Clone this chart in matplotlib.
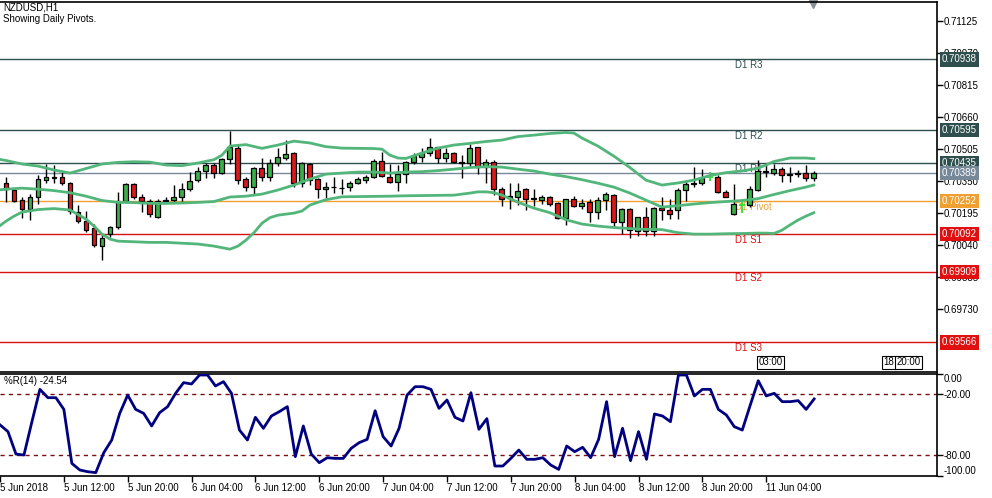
import numpy as np
import matplotlib
matplotlib.use('Agg')
import matplotlib.pyplot as plt
import matplotlib.transforms as mtransforms

plt.rcParams['font.family'] = ['Liberation Sans', 'DejaVu Sans']

# NZDUSD H1 candles, bar 0 = 5 Jun 05:00
opens = [0.70340, 0.70305, 0.70256, 0.70211, 0.70272, 0.70353, 0.70366, 0.70366, 0.70340, 0.70196,
         0.70156, 0.70119, 0.70033, 0.70091, 0.70124, 0.70253, 0.70334, 0.70269, 0.70251, 0.70172,
         0.70252, 0.70258, 0.70272, 0.70308, 0.70352, 0.70395, 0.70426, 0.70389, 0.70453, 0.70510,
         0.70356, 0.70321, 0.70410, 0.70366, 0.70438, 0.70458, 0.70482, 0.70341, 0.70431, 0.70356,
         0.70309, 0.70321, 0.70317, 0.70321, 0.70340, 0.70353, 0.70369, 0.70447, 0.70369, 0.70345,
         0.70382, 0.70442, 0.70463, 0.70483, 0.70512, 0.70458, 0.70485, 0.70442, 0.70437, 0.70512,
         0.70415, 0.70442, 0.70308, 0.70274, 0.70272, 0.70308, 0.70263, 0.70257, 0.70271, 0.70240,
         0.70171, 0.70260, 0.70228, 0.70245, 0.70199, 0.70256, 0.70280, 0.70151, 0.70212, 0.70108,
         0.70174, 0.70108, 0.70220, 0.70210, 0.70208, 0.70305, 0.70334, 0.70341, 0.70369, 0.70366,
         0.70296, 0.70191, 0.70230, 0.70232, 0.70305, 0.70395, 0.70389, 0.70405, 0.70381, 0.70383,
         0.70387, 0.70361]
highs = [0.70369, 0.70316, 0.70272, 0.70288, 0.70377, 0.70431, 0.70426, 0.70393, 0.70345, 0.70232,
         0.70204, 0.70140, 0.70086, 0.70130, 0.70296, 0.70340, 0.70340, 0.70284, 0.70259, 0.70259,
         0.70272, 0.70329, 0.70337, 0.70393, 0.70418, 0.70434, 0.70434, 0.70458, 0.70592, 0.70528,
         0.70366, 0.70415, 0.70458, 0.70453, 0.70508, 0.70547, 0.70490, 0.70442, 0.70434, 0.70361,
         0.70345, 0.70366, 0.70356, 0.70350, 0.70366, 0.70377, 0.70453, 0.70490, 0.70431, 0.70426,
         0.70447, 0.70483, 0.70507, 0.70555, 0.70515, 0.70507, 0.70490, 0.70474, 0.70528, 0.70515,
         0.70453, 0.70450, 0.70318, 0.70337, 0.70337, 0.70313, 0.70308, 0.70279, 0.70275, 0.70248,
         0.70262, 0.70275, 0.70259, 0.70262, 0.70269, 0.70296, 0.70285, 0.70216, 0.70216, 0.70175,
         0.70223, 0.70222, 0.70272, 0.70259, 0.70313, 0.70348, 0.70418, 0.70405, 0.70393, 0.70377,
         0.70305, 0.70334, 0.70254, 0.70324, 0.70452, 0.70435, 0.70431, 0.70418, 0.70418, 0.70402,
         0.70424, 0.70398]
lows = [0.70248, 0.70248, 0.70167, 0.70159, 0.70237, 0.70337, 0.70340, 0.70329, 0.70191, 0.70146,
        0.70102, 0.70029, 0.69968, 0.70078, 0.70114, 0.70248, 0.70259, 0.70199, 0.70172, 0.70167,
        0.70240, 0.70240, 0.70243, 0.70301, 0.70345, 0.70361, 0.70361, 0.70385, 0.70430, 0.70332,
        0.70301, 0.70285, 0.70350, 0.70350, 0.70421, 0.70450, 0.70321, 0.70321, 0.70329, 0.70264,
        0.70264, 0.70291, 0.70285, 0.70301, 0.70334, 0.70337, 0.70361, 0.70366, 0.70340, 0.70301,
        0.70337, 0.70431, 0.70442, 0.70469, 0.70437, 0.70442, 0.70434, 0.70361, 0.70418, 0.70382,
        0.70337, 0.70280, 0.70227, 0.70211, 0.70232, 0.70208, 0.70227, 0.70237, 0.70227, 0.70165,
        0.70137, 0.70224, 0.70211, 0.70151, 0.70162, 0.70208, 0.70119, 0.70094, 0.70070, 0.70081,
        0.70081, 0.70081, 0.70159, 0.70162, 0.70162, 0.70251, 0.70319, 0.70330, 0.70348, 0.70291,
        0.70269, 0.70186, 0.70195, 0.70224, 0.70300, 0.70368, 0.70377, 0.70345, 0.70345, 0.70368,
        0.70351, 0.70350]
closes = [0.70308, 0.70253, 0.70211, 0.70272, 0.70356, 0.70366, 0.70365, 0.70337, 0.70204, 0.70156,
          0.70111, 0.70038, 0.70070, 0.70124, 0.70253, 0.70334, 0.70269, 0.70251, 0.70188, 0.70251,
          0.70257, 0.70269, 0.70308, 0.70347, 0.70395, 0.70426, 0.70389, 0.70453, 0.70513, 0.70355,
          0.70318, 0.70411, 0.70366, 0.70438, 0.70463, 0.70479, 0.70341, 0.70434, 0.70353, 0.70308,
          0.70321, 0.70319, 0.70314, 0.70340, 0.70359, 0.70366, 0.70447, 0.70372, 0.70345, 0.70382,
          0.70442, 0.70469, 0.70485, 0.70512, 0.70458, 0.70485, 0.70442, 0.70434, 0.70507, 0.70415,
          0.70442, 0.70308, 0.70259, 0.70267, 0.70298, 0.70259, 0.70262, 0.70271, 0.70238, 0.70171,
          0.70260, 0.70229, 0.70244, 0.70199, 0.70256, 0.70285, 0.70151, 0.70212, 0.70111, 0.70174,
          0.70108, 0.70219, 0.70208, 0.70191, 0.70305, 0.70332, 0.70338, 0.70365, 0.70369, 0.70296,
          0.70272, 0.70239, 0.70230, 0.70308, 0.70395, 0.70393, 0.70405, 0.70379, 0.70380, 0.70389,
          0.70361, 0.70389]

# Bollinger bands (bar index, value)
bb_up_bars = [-1, 0, 2, 4, 6, 8, 10, 12, 14, 16, 18, 20, 22, 24, 26, 27, 28, 30, 32, 34, 36, 38, 40,
              42, 44, 46, 47, 48, 49, 50, 52, 54, 56, 58, 60, 62, 64, 66, 68, 70, 71, 72, 74, 76, 78,
              80, 82, 84, 86, 88, 90, 92, 94, 95, 96, 98, 100, 101]
bb_up = [0.70455, 0.70448, 0.70431, 0.70421, 0.70402, 0.70387, 0.70409, 0.70431, 0.70439, 0.70442,
         0.70440, 0.70426, 0.70423, 0.70436, 0.70452, 0.70474, 0.70518, 0.70525, 0.70507, 0.70523,
         0.70542, 0.70533, 0.70515, 0.70508, 0.70507, 0.70506, 0.70503, 0.70474, 0.70460, 0.70458,
         0.70484, 0.70508, 0.70523, 0.70531, 0.70540, 0.70547, 0.70564, 0.70571, 0.70579, 0.70584,
         0.70581, 0.70557, 0.70518, 0.70469, 0.70414, 0.70353, 0.70329, 0.70339, 0.70353, 0.70375,
         0.70389, 0.70397, 0.70411, 0.70426, 0.70443, 0.70460, 0.70460, 0.70457]
bb_mid_bars = [-1, 0, 2, 4, 6, 8, 10, 12, 14, 16, 18, 20, 22, 24, 26, 28, 30, 32, 34, 36, 38, 40, 42,
               44, 46, 48, 50, 52, 54, 56, 58, 60, 62, 64, 66, 68, 70, 72, 74, 76, 78, 80, 82, 84, 86,
               88, 90, 92, 94, 96, 98, 100, 101]
bb_mid = [0.70305, 0.70309, 0.70314, 0.70309, 0.70302, 0.70292, 0.70275, 0.70254, 0.70245, 0.70244,
          0.70240, 0.70240, 0.70242, 0.70245, 0.70249, 0.70271, 0.70275, 0.70285, 0.70305, 0.70329,
          0.70358, 0.70382, 0.70387, 0.70392, 0.70392, 0.70387, 0.70392, 0.70394, 0.70399, 0.70406,
          0.70414, 0.70418, 0.70416, 0.70406, 0.70397, 0.70382, 0.70370, 0.70355, 0.70338, 0.70319,
          0.70290, 0.70256, 0.70222, 0.70229, 0.70237, 0.70244, 0.70249, 0.70254, 0.70263, 0.70283,
          0.70302, 0.70319, 0.70329]
bb_low_bars = [-1, 0, 1, 2, 4, 6, 8, 10, 11, 12, 13, 14, 16, 18, 20, 22, 24, 26, 28, 29, 30, 31, 32,
               33, 34, 36, 37, 38, 40, 42, 44, 46, 48, 50, 52, 54, 56, 58, 59, 60, 61, 62, 64, 66, 68,
               70, 72, 74, 76, 78, 80, 82, 84, 86, 88, 90, 92, 94, 95, 96, 97, 98, 99, 100, 101]
bb_low = [0.70125, 0.70154, 0.70178, 0.70198, 0.70210, 0.70215, 0.70208, 0.70164, 0.70130, 0.70091,
          0.70067, 0.70057, 0.70054, 0.70051, 0.70051, 0.70047, 0.70043, 0.70033, 0.70018, 0.70033,
          0.70062, 0.70098, 0.70144, 0.70171, 0.70183, 0.70193, 0.70203, 0.70232, 0.70258, 0.70272,
          0.70273, 0.70274, 0.70275, 0.70277, 0.70278, 0.70279, 0.70280, 0.70290, 0.70296, 0.70296,
          0.70292, 0.70280, 0.70246, 0.70217, 0.70195, 0.70161, 0.70140, 0.70130, 0.70123, 0.70118,
          0.70114, 0.70113, 0.70098, 0.70091, 0.70091, 0.70093, 0.70094, 0.70096, 0.70096, 0.70094,
          0.70110, 0.70135, 0.70159, 0.70178, 0.70195]

# Williams %R(14), from bar -1
wpr = [-50.0, -56.7, -78.7, -79.7, -46.9, -15.1, -23.3, -23.3, -34.8, -87.9, -94.4,
       -96.1, -97.0, -77.4, -64.9, -38.7, -20.7, -34.8, -38.7, -51.1, -38.0,
       -32.1, -19.0, -8.5, -9.8, -1.0, -1.0, -11.8, -7.5, -19.0, -55.1,
       -64.9, -42.6, -53.4, -41.3, -37.0, -32.1, -81.3, -51.1, -78.7, -87.2,
       -82.3, -83.0, -83.0, -73.1, -67.5, -64.3, -36.1, -61.6, -70.8, -53.4,
       -20.7, -12.5, -12.5, -15.1, -33.8, -25.6, -42.6, -46.2, -18.4, -54.4,
       -43.9, -90.5, -90.5, -83.0, -74.8, -83.9, -83.9, -82.3, -89.5, -93.8,
       -70.8, -76.4, -72.1, -82.3, -64.3, -27.2, -81.3, -53.4, -85.2, -56.7,
       -83.9, -39.3, -41.3, -46.9, -1.0, -1.0, -21.6, -15.1, -15.1, -34.8,
       -40.3, -51.8, -55.1, -30.5, -6.6, -21.6, -19.0, -27.2, -27.2, -26.2,
       -34.8, -24.54]

# daily pivots
pivot_names = ['D1 R3', 'D1 R2', 'D1 R1', 'D1 Pivot', 'D1 S1', 'D1 S2', 'D1 S3']
pivot_levels = [0.70938, 0.70595, 0.70435, 0.70252, 0.70092, 0.69909, 0.69566]
pivot_colors = ['#2f4f4f', '#2f4f4f', '#2f4f4f', '#f0a030', '#d81010', '#d81010', '#d81010']
bid = 0.70389

price_ticks = [0.71125, 0.70970, 0.70815, 0.70660, 0.70505, 0.70350, 0.70195, 0.70040, 0.69885, 0.69730]
time_tick_bars = [-1, 7, 15, 23, 31, 39, 47, 55, 63, 71, 79, 87, 95]
time_tick_labels = ['5 Jun 2018', '5 Jun 12:00', '5 Jun 20:00', '6 Jun 04:00', '6 Jun 12:00',
                    '6 Jun 20:00', '7 Jun 04:00', '7 Jun 12:00', '7 Jun 20:00', '8 Jun 04:00',
                    '8 Jun 12:00', '8 Jun 20:00', '11 Jun 04:00']

o = np.array(opens)
h = np.array(highs)
l = np.array(lows)
c = np.array(closes)
x = np.arange(len(o))

fig = plt.figure(figsize=(9.92, 4.98), dpi=100)
ax = fig.add_axes([0, 0.2536, 0.9446, 0.7430])
ax2 = fig.add_axes([0, 0.0448, 0.9446, 0.2042])
fs = 7

# pivot lines
for name, lev, col in zip(pivot_names, pivot_levels, pivot_colors):
    ax.axhline(lev, color=col, lw=1, zorder=1)
    ax.text(91.1, lev - 0.00005, name, color=col, fontsize=fs, va='top', ha='left', zorder=1.5)
ax.axhline(bid, color='#778899', lw=1, zorder=1)

# candles
up = c > o
dn = c < o
dj = c == o
ax.vlines(x[~dj], l[~dj], h[~dj], color='black', lw=1, zorder=3)
body = np.maximum(np.abs(c - o), 0.00002)
ax.bar(x[up], body[up], bottom=o[up], width=0.62, color='#3dae4a', edgecolor='black', lw=0.9, zorder=4)
ax.bar(x[dn], body[dn], bottom=c[dn], width=0.62, color='#d71a1a', edgecolor='black', lw=0.9, zorder=4)
ax.vlines(x[dj], l[dj], h[dj], color='#33dd33', lw=1.3, zorder=4)
ax.hlines(c[dj], x[dj] - 0.4, x[dj] + 0.4, color='#33dd33', lw=1.3, zorder=4)

# bollinger bands
bb_col = '#52b67a'
ax.plot(bb_up_bars, bb_up, color=bb_col, lw=2, zorder=5)
ax.plot(bb_mid_bars, bb_mid, color=bb_col, lw=2, zorder=5)
ax.plot(bb_low_bars, bb_low, color=bb_col, lw=2, zorder=5)

ax.set_xlim(-0.75, 116.4)
ax.set_ylim(0.69424, 0.71218)
ax.set_xticks([])
ax.yaxis.tick_right()
ax.set_yticks(price_ticks)
ax.set_yticklabels(['%.5f' % p for p in price_ticks])
ax.tick_params(axis='y', direction='out', length=4, width=1, pad=1, labelsize=fs)
ax.spines['left'].set_visible(False)
for s in ['top', 'right', 'bottom']:
    ax.spines[s].set_linewidth(1.2)

# price labels on the right scale
trans = mtransforms.blended_transform_factory(ax.transAxes, ax.transData)
box_levels = pivot_levels[:3] + [bid] + pivot_levels[3:]
box_colors = ['#2f4f4f', '#2f4f4f', '#2f4f4f', '#778899', '#f0a030', '#e01010', '#e01010', '#e01010']
for lev, col in zip(box_levels, box_colors):
    ax.text(1.005, lev, '%.5f' % lev, transform=trans, color='white', fontsize=fs,
            ha='left', va='center', clip_on=False, zorder=10,
            bbox=dict(boxstyle='square,pad=0.22', fc=col, ec='none'))

ax.text(0.003, 0.983, 'NZDUSD,H1', transform=ax.transAxes, fontsize=fs, va='center', ha='left')
ax.text(0.003, 0.952, 'Showing Daily Pivots.', transform=ax.transAxes, fontsize=fs, va='center', ha='left')

# shift marker and separator tags
xy_trans = mtransforms.blended_transform_factory(ax.transData, ax.transAxes)
ax.plot([100.9], [0.994], marker='v', color='#8a8f96', ms=6, transform=xy_trans, clip_on=False)
tag = dict(boxstyle='square,pad=0.15', fc='white', ec='black', lw=0.8)
ax.text(94.1, 0.026, '03:00', transform=xy_trans, fontsize=fs, va='center', ha='left', bbox=tag)
ax.text(109.7, 0.026, '18', transform=xy_trans, fontsize=fs, va='center', ha='left', bbox=tag)
ax.text(111.3, 0.026, '20:00', transform=xy_trans, fontsize=fs, va='center', ha='left', bbox=tag)

# williams %R panel
ax2.plot(np.arange(-1, len(wpr) - 1), wpr, color='#000080', lw=2, zorder=3)
ax2.axhline(-20, color='#7a1010', lw=1, ls=(0, (3, 3)))
ax2.axhline(-80, color='#7a1010', lw=1, ls=(0, (3, 3)))
ax2.set_xlim(-0.75, 116.4)
ax2.set_ylim(-100, 0)
ax2.yaxis.tick_right()
ax2.set_yticks([0, -20, -80, -100])
ax2.set_yticklabels(['0.00', '-20.00', '-80.00', '-100.00'])
ax2.tick_params(axis='y', direction='out', length=4, width=1, pad=1, labelsize=fs)
yl = ax2.get_yticklabels()
yl[0].set_verticalalignment('top')
yl[-1].set_verticalalignment('bottom')
ax2.set_xticks(time_tick_bars)
ax2.set_xticklabels(time_tick_labels)
ax2.tick_params(axis='x', direction='out', length=4, width=1, pad=1, labelsize=fs)
for lbl in ax2.get_xticklabels():
    lbl.set_horizontalalignment('left')
ax2.spines['left'].set_visible(False)
for s in ['top', 'right', 'bottom']:
    ax2.spines[s].set_linewidth(1.2)
ax2.text(0.004, 0.93, '%R(14) -24.54', transform=ax2.transAxes, fontsize=fs, va='center', ha='left')

fig.savefig('out.png', dpi=100)
